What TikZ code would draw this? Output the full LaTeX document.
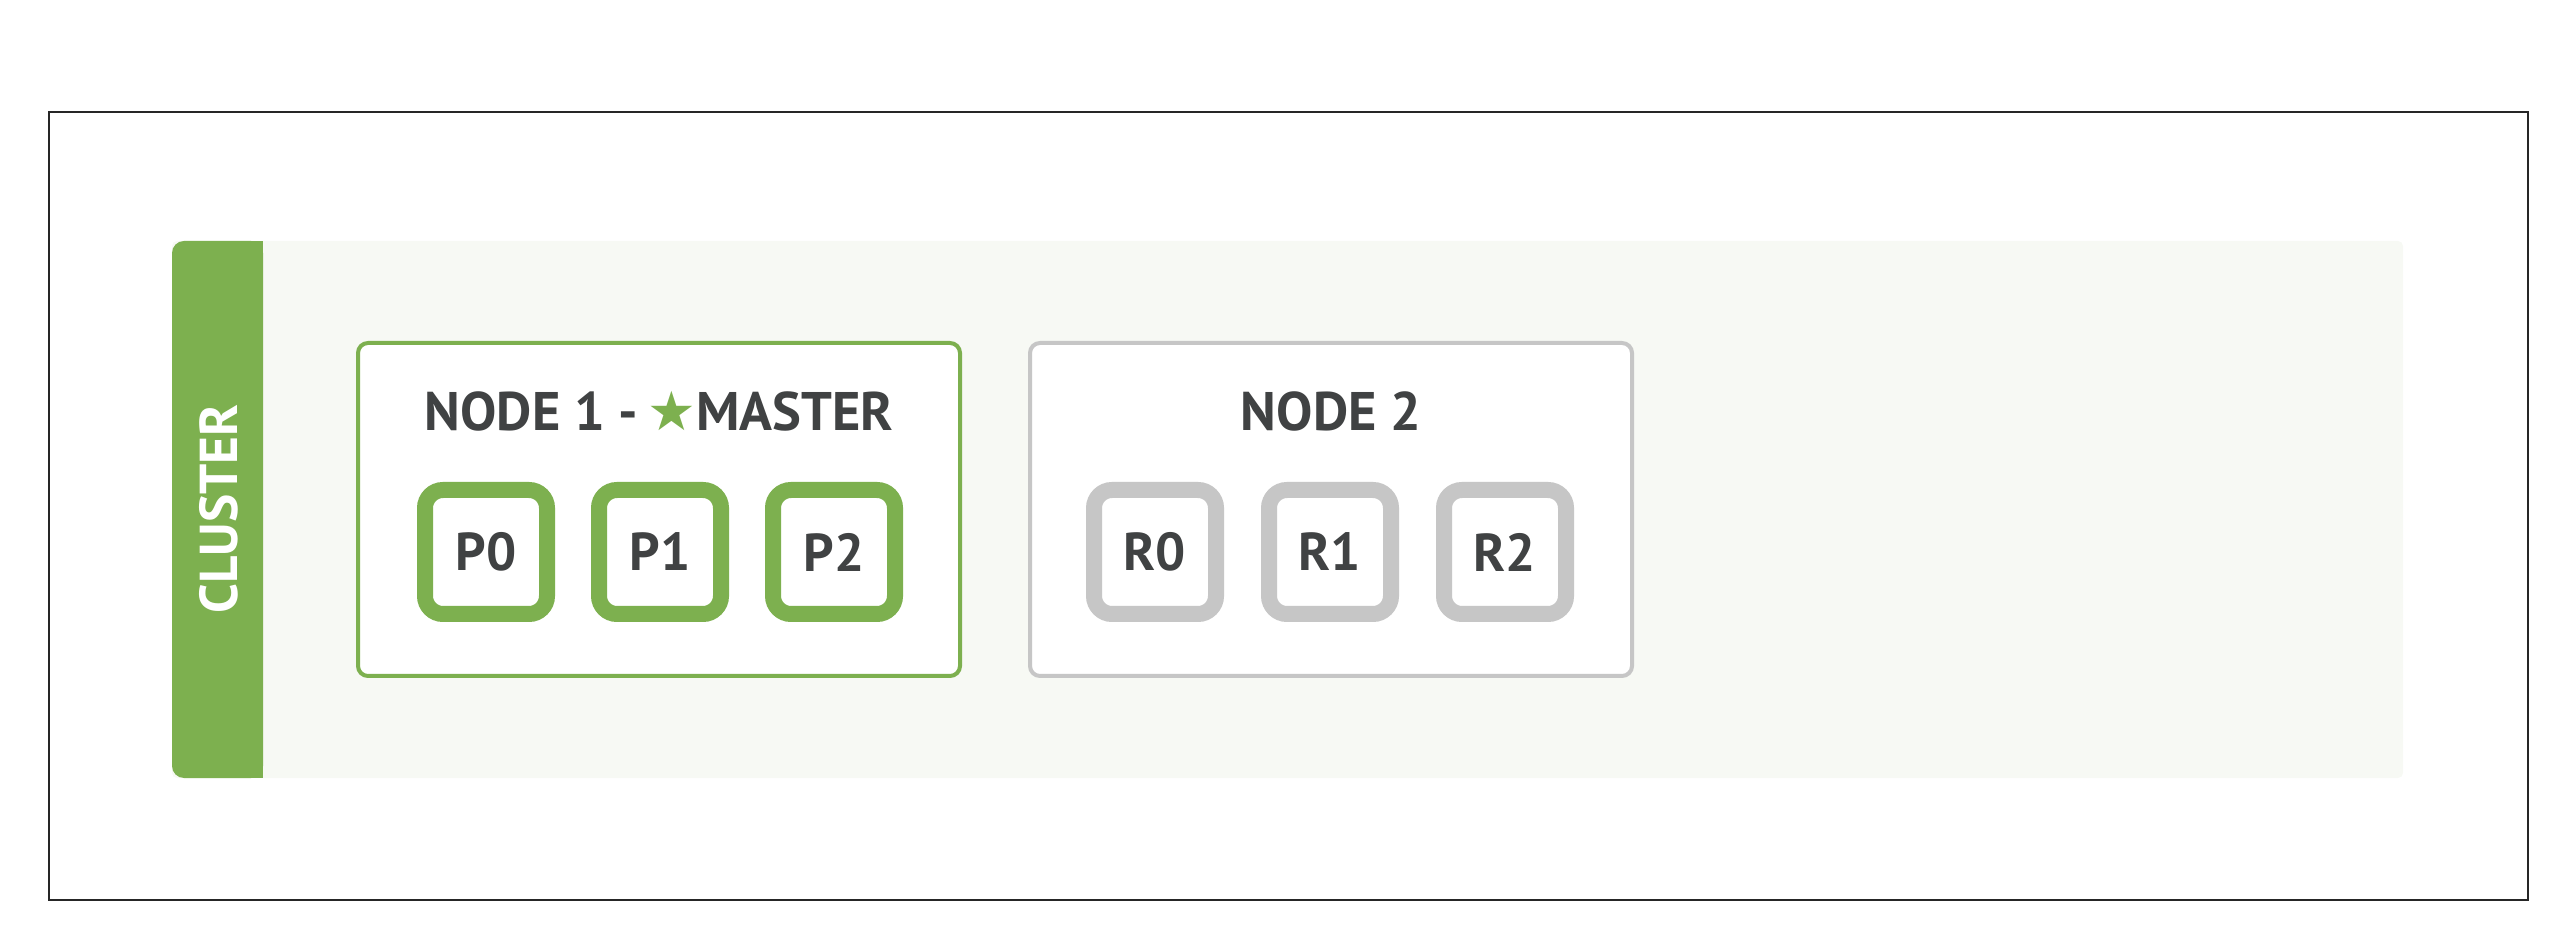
\documentclass[tikz,border=0pt]{standalone}
\usepackage{fontspec}
\setmainfont{PT Sans}
\newfontfamily\symfont{DejaVu Sans}

\definecolor{esgreen}{HTML}{7DB04F}
\definecolor{esgray}{HTML}{C6C6C6}
\definecolor{estext}{HTML}{404243}
\definecolor{esbg}{HTML}{F7F9F4}

\begin{document}
\begin{tikzpicture}[x=0.3pt,y=-0.3pt,
    hostbox/.style={draw, line width=1.2pt, rounded corners=3pt, fill=white,
        minimum width=180.6pt, minimum height=99.9pt, inner sep=0pt},
    shardbox/.style={draw, line width=4.8pt, rounded corners=5.4pt, fill=white,
        minimum width=36.6pt, minimum height=37.2pt, inner sep=0pt,
        text=estext, font=\fontsize{16}{18}\selectfont\bfseries},
    hosttitle/.style={anchor=base, inner sep=0pt, text=estext,
        font=\fontsize{16.3}{18}\selectfont\bfseries}]
    \useasboundingbox (0,0) rectangle (2574,928);
    \draw[black!85, line width=0.6pt] (49,112) rectangle (2528,900);

    % cluster
    \fill[esbg, rounded corners=1.5pt] (172,241) rectangle (2403,778);
    \fill[esgreen, rounded corners=3.6pt] (172,241) rectangle (263,778);
    \fill[esgreen] (240,241) rectangle (263,778);
    \node (cluster) at (219,509) [rotate=90, inner sep=0pt, text=white,
        font=\fontsize{16}{18}\selectfont\bfseries] {CLUSTER};

    % node 1
    \node (node1) at (659,509.5) [hostbox, draw=esgreen] {};
    \node (node1title) at (659,431) [hosttitle] {NODE 1 -\,{\symfont\color{esgreen}★}MASTER};
    \foreach \i/\x in {0/486,1/660,2/834}
        \node (p\i) at (\x,552) [shardbox, draw=esgreen] {P\i};

    % node 2
    \node (node2) at (1331,509.5) [hostbox, draw=esgray] {};
    \node (node2title) at (1331,431) [hosttitle] {NODE 2};
    \foreach \i/\x in {0/1155,1/1330,2/1505}
        \node (r\i) at (\x,552) [shardbox, draw=esgray] {R\i};
\end{tikzpicture}
\end{document}
